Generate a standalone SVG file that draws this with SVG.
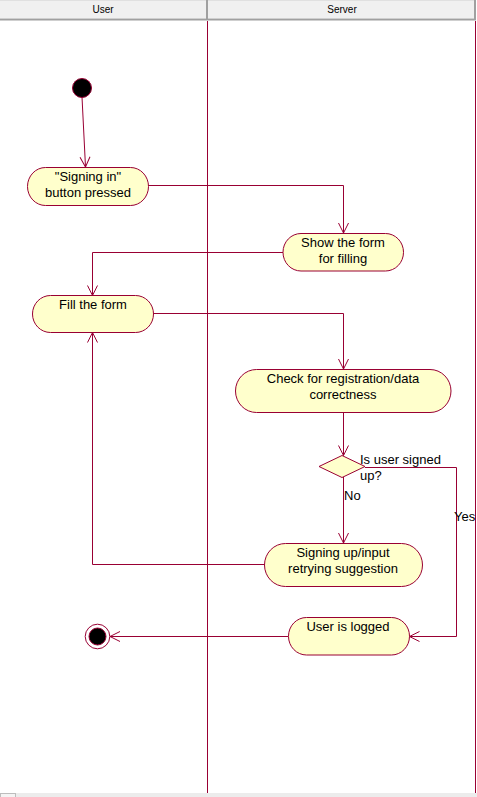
<svg xmlns="http://www.w3.org/2000/svg" width="477" height="797" viewBox="0 0 477 797">
<defs>
<style>
.lane{stroke:#990033;stroke-width:1;fill:none}
.hdr{font-family:"Liberation Sans",Arial,sans-serif;font-size:10px;fill:#000;text-anchor:middle}
.act{fill:#ffffcc;stroke:#990033;stroke-width:1}
.t{font-family:"Liberation Sans",Arial,sans-serif;font-size:13px;fill:#000;text-anchor:middle}
.lbl{font-family:"Liberation Sans",Arial,sans-serif;font-size:13px;fill:#000}
.c{stroke:#990033;stroke-width:1;fill:none}
</style>
<marker id="arr" markerWidth="12" markerHeight="12" refX="11" refY="6" orient="auto" markerUnits="userSpaceOnUse">
<path d="M1,1 L11,6 L1,11" fill="none" stroke="#990033" stroke-width="1"/>
</marker>
</defs>
<rect x="0" y="0" width="477" height="797" fill="#ffffff"/>
<g id="header">
<rect x="0" y="0" width="476" height="18" fill="#f0f0f0"/>
<line x1="0" y1="0.5" x2="476" y2="0.5" stroke="#e0e0e0"/>
<line x1="0" y1="19.5" x2="476" y2="19.5" stroke="#a0a0a0" stroke-width="2"/>
<line x1="207" y1="0" x2="207" y2="19" stroke="#a0a0a0" stroke-width="2"/>
<line x1="475" y1="0" x2="475" y2="19" stroke="#a0a0a0" stroke-width="2"/>
<text class="hdr" x="103" y="13">User</text>
<text class="hdr" x="342" y="13">Server</text>
</g>
<g id="lanes">
<line class="lane" x1="207.5" y1="21" x2="207.5" y2="793"/>
<line class="lane" x1="475.5" y1="21" x2="475.5" y2="793"/>
</g>
<g id="connectors">
<path class="c" d="M82,97 L85.5,167" marker-end="url(#arr)"/>
<path class="c" d="M148,185.5 H343.5 V233" marker-end="url(#arr)"/>
<path class="c" d="M283,252.5 H92.5 V295.5" marker-end="url(#arr)"/>
<path class="c" d="M153,313.5 H343.5 V369" marker-end="url(#arr)"/>
<path class="c" d="M343.5,412 V455.5" marker-end="url(#arr)"/>
<path class="c" d="M365,467.5 H456.5 V636.5 H409.5" marker-end="url(#arr)"/>
<path class="c" d="M343.5,477 V543" marker-end="url(#arr)"/>
<path class="c" d="M264,564.5 H92.5 V332.5" marker-end="url(#arr)"/>
<path class="c" d="M288,636.5 H110" marker-end="url(#arr)"/>
<text class="lbl" x="360" y="464">Is user signed</text>
<text class="lbl" x="360" y="480">up?</text>
<text class="lbl" x="344" y="500">No</text>
<text class="lbl" x="454" y="521">Yes</text>
</g>
<g id="start">
<circle cx="82" cy="88" r="9.5" fill="#000" stroke="#990033" stroke-width="1"/>
</g>
<g id="signing-in">
<rect class="act" x="27.5" y="167.5" width="121" height="38" rx="18" ry="19"/>
<text class="t" x="88" y="181">"Signing in"</text>
<text class="t" x="88" y="197">button pressed</text>
</g>
<g id="show-form">
<rect class="act" x="283" y="233.5" width="120.5" height="37.5" rx="18" ry="18.7"/>
<text class="t" x="343" y="247">Show the form</text>
<text class="t" x="343" y="263">for filling</text>
</g>
<g id="fill-form">
<rect class="act" x="32.5" y="295.5" width="121" height="37" rx="18" ry="18.5"/>
<text class="t" x="93" y="309">Fill the form</text>
</g>
<g id="check">
<rect class="act" x="235.5" y="369.5" width="215.5" height="43" rx="21" ry="21.5"/>
<text class="t" x="343" y="383">Check for registration/data</text>
<text class="t" x="343" y="399">correctness</text>
</g>
<g id="decision">
<polygon points="342,455.5 365,466.5 342,477.5 319,466.5" fill="#ffffcc" stroke="#990033" stroke-width="1"/>
</g>
<g id="signing-up">
<rect class="act" x="264.5" y="543.5" width="158" height="43" rx="21" ry="21.5"/>
<text class="t" x="343" y="557">Signing up/input</text>
<text class="t" x="343" y="573">retrying suggestion</text>
</g>
<g id="user-logged">
<rect class="act" x="288.5" y="617.5" width="121" height="37.5" rx="18" ry="18.7"/>
<text class="t" x="348" y="631">User is logged</text>
</g>
<g id="end">
<circle cx="97.5" cy="636.5" r="12.3" fill="#ffffff" stroke="#990033" stroke-width="1"/>
<circle cx="97.5" cy="636.5" r="8.5" fill="#000" stroke="#990033" stroke-width="1"/>
</g>
<g id="scrollbar">
<rect x="0" y="793" width="477" height="4" fill="#ececec"/>
<rect x="0.5" y="793.5" width="15" height="4" fill="#f4f4f4" stroke="#bdbdbd"/>
</g>
</svg>
